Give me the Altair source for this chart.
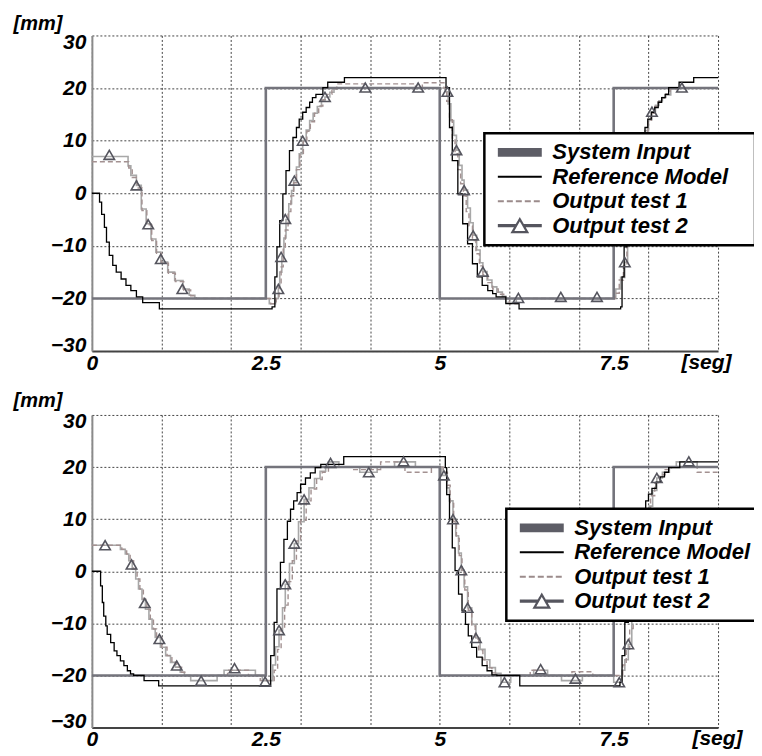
import altair as alt
import pandas as pd

FONT = "Liberation Sans"
SERIES = ["System Input", "Reference Model", "Output test 1", "Output test 2"]

# ---------------- data ----------------
input_t = [0, 2.5, 5, 7.5, 9]
input_v = [-20, 20, -20, 20, 20]

# top panel
top_ref_t = [0, 0.11, 0.14, 0.18, 0.21, 0.25, 0.30, 0.35, 0.42, 0.49, 0.56, 0.64, 0.73, 0.97,
             2.59, 2.63, 2.66, 2.70, 2.745, 2.79, 2.84, 2.89, 2.94, 2.98, 3.03, 3.08, 3.13, 3.17, 3.22, 3.32, 3.39, 3.63,
             5.09, 5.14, 5.18, 5.26, 5.33, 5.40, 5.47, 5.54, 5.61, 5.69, 5.76, 5.81, 5.95, 6.14,
             7.60, 7.62, 7.65, 7.69, 7.74, 7.79, 7.84, 7.90, 7.95, 7.99, 8.04, 8.09, 8.14, 8.19, 8.24, 8.29, 8.44, 8.65, 9]
top_ref_v = [0, -1.7, -4, -6.5, -9.3, -11.8, -13.7, -15, -16.3, -17.5, -18.5, -19.7, -20.8, -22,
             -21.6, -15.9, -10.2, -5.2, -0.1, 4.3, 8.1, 10.6, 12.5, 14.1, 15.4, 16.3, 17.3, 18.2, 18.8, 20.1, 21.1, 22,
             20.1, 12.5, 6.2, -0.1, -5.8, -9.6, -13.4, -15.9, -17.5, -18.5, -19.1, -19.7, -21, -22,
             -21.6, -15.9, -10.2, -5.2, -0.1, 4.3, 8.1, 10.6, 12.5, 14.1, 15.4, 16.3, 17.3, 18.2, 18.8, 20.1, 21.1, 22, 22]

top_t1_t = [0, 0.53, 0.58, 0.65, 0.72, 0.79, 0.86, 0.93, 1.00, 1.10, 1.20, 1.32, 1.42, 1.50,
            2.57, 2.65, 2.69, 2.72, 2.75, 2.78, 2.82, 2.86, 2.90, 2.94, 2.99, 3.04, 3.09, 3.14, 3.20, 3.26, 3.32, 3.38, 3.45, 3.52, 4.65, 4.75,
            5.06, 5.10, 5.14, 5.18, 5.22, 5.26, 5.30, 5.34, 5.38, 5.42, 5.47, 5.52, 5.57, 5.62, 5.69, 5.76, 5.84, 5.92, 6.00, 6.12,
            7.52, 7.58, 7.64, 7.69, 7.74, 7.79, 7.84, 7.89, 7.94, 7.99, 8.04, 8.09, 8.14, 8.19, 8.25, 8.31, 8.40, 9]
top_t1_v = [6, 4.8, 3, 1, -3.3, -6, -9, -11.4, -13.3, -15.2, -16.8, -18.4, -19.5, -20,
            -21, -20, -17.5, -14, -10.5, -7, -3.5, -0.5, 2, 4.5, 7.3, 9.8, 11.8, 13.6, 15.2, 16.6, 17.8, 18.8, 19.8, 20.8, 20, 21,
            20, 17.5, 14, 10.5, 7.5, 4.5, 1.8, -0.5, -3.5, -6.2, -9, -11.5, -13.8, -15.5, -17, -18.2, -19.2, -20, -21, -20,
            -19, -16.5, -13.8, -10, -5.5, -1, 3.5, 7.8, 11.2, 13.6, 15.2, 16.5, 17.4, 18.1, 18.9, 19.8, 20, 20]

top_t2_t = [0, 0.52, 0.56, 0.64, 0.71, 0.78, 0.85, 0.92, 0.99, 1.09, 1.19, 1.31, 1.40, 1.48,
            2.55, 2.64, 2.68, 2.70, 2.73, 2.76, 2.79, 2.83, 2.87, 2.90, 2.94, 2.98, 3.03, 3.08, 3.13, 3.18, 3.24, 3.30, 3.35, 3.42, 3.48,
            5.08, 5.12, 5.16, 5.20, 5.24, 5.28, 5.32, 5.35, 5.40, 5.44, 5.48, 5.53, 5.58, 5.62, 5.68, 5.75, 5.82, 5.90, 5.95, 6.10,
            7.53, 7.60, 7.66, 7.70, 7.75, 7.80, 7.85, 7.90, 7.95, 8.00, 8.05, 8.10, 8.15, 8.20, 8.25, 8.32, 8.40, 9]
top_t2_v = [7, 5.2, 3.4, 1.5, -3, -5.8, -8.7, -11.2, -13.1, -15, -16.6, -18.2, -19.4, -20,
            -21, -20, -18, -15, -12, -8.5, -5, -2, 0.5, 2.4, 5, 7.5, 10, 12, 13.8, 15.2, 16.5, 17.6, 18.3, 19.2, 20,
            19.3, 17, 13.8, 11, 8.2, 5.3, 2.5, 0.6, -2.8, -5.6, -8, -10.8, -13.2, -14.9, -16.5, -17.8, -18.8, -19.6, -20.8, -20,
            -18.2, -16, -13.1, -9.5, -5, -0.5, 4, 8.2, 11.9, 14, 15.5, 16.7, 17.6, 18.2, 18.7, 19.8, 20, 20]

top_mk_t = [0.25, 0.64, 0.81, 0.99, 1.30, 2.68, 2.72, 2.78, 2.91, 3.03, 3.35, 3.93, 4.69,
            5.11, 5.24, 5.35, 5.48, 5.62, 6.13, 6.74, 7.26, 7.66, 8.05, 8.48]
top_mk_v = [7.3, 1.5, -5.9, -12.5, -18.2, -18.2, -12.1, -4.9, 2.4, 10, 18.3, 20.1, 20.1,
            19.3, 8.2, 0.6, -8.0, -14.9, -19.9, -19.7, -19.7, -13.1, 15.5, 20.1]

# bottom panel
bot_ref_t = [0, 0.125, 0.15, 0.17, 0.20, 0.22, 0.27, 0.32, 0.36, 0.41, 0.46, 0.51, 0.555, 0.60, 0.75, 0.96,
             2.57, 2.62, 2.66, 2.71, 2.76, 2.81, 2.855, 2.90, 2.95, 3.00, 3.07, 3.14, 3.21, 3.29, 3.62,
             5.08, 5.10, 5.14, 5.18, 5.22, 5.27, 5.32, 5.37, 5.41, 5.46, 5.53, 5.61, 5.68, 5.75, 5.82, 6.15,
             7.59, 7.62, 7.66, 7.71, 7.76, 7.81, 7.86, 7.91, 7.96, 8.00, 8.05, 8.11, 8.17, 8.23, 8.29, 8.45, 9]
bot_ref_v = [0, -2.8, -6, -8.6, -10.5, -12.1, -13.7, -15.3, -16.2, -17.2, -18.1, -19.1, -19.7, -20, -21, -22,
             -16.2, -9.8, -3.4, 1.7, 6.1, 9.6, 11.9, 13.5, 15.1, 16.7, 17.9, 18.9, 19.9, 20.5, 22,
             19.9, 14.7, 10, 4.5, 0.1, -4.4, -7.6, -10.2, -12.4, -14.6, -16.5, -18.1, -19.1, -19.9, -20, -22,
             -21.3, -16.2, -9.8, -3.4, 1.7, 6.1, 9.6, 11.9, 13.5, 14.8, 15.9, 17.1, 18.1, 19, 19.9, 21, 21]

bot_t1_t = [0, 0.43, 0.50, 0.55, 0.60, 0.65, 0.69, 0.74, 0.79, 0.84, 0.885, 0.93, 1.005, 1.08, 1.15, 1.22, 1.29, 1.35, 1.95, 2.25, 2.42,
            2.62, 2.67, 2.72, 2.77, 2.82, 2.88, 2.94, 3.00, 3.08, 3.15, 3.23, 3.31, 3.40, 3.75, 4.15, 4.50, 4.88,
            5.05, 5.11, 5.15, 5.20, 5.24, 5.28, 5.32, 5.36, 5.41, 5.46, 5.51, 5.56, 5.62, 5.68, 5.75, 5.83, 6.30, 6.50, 6.90, 7.20,
            7.55, 7.63, 7.68, 7.73, 7.78, 7.83, 7.88, 7.93, 7.98, 8.03, 8.09, 8.16, 8.24, 8.33, 8.70, 9]
bot_t1_v = [5, 4.2, 3.3, 2, 0.4, -1.5, -3.4, -5.4, -7.3, -9.2, -11.1, -12.7, -14.6, -16.2, -17.5, -18.4, -19.4, -20, -19, -20, -21,
            -19, -15, -11, -6.5, -2, 2, 5.8, 9.8, 13.5, 15.8, 17.6, 19, 20, 19.5, 21, 19, 20,
            19, 16.5, 13, 9.5, 6.3, 3, -0.3, -3.6, -7.5, -10.5, -13, -15.2, -17, -18.5, -19.5, -20, -19, -20, -19.3, -20,
            -20, -18, -15, -11, -6, -1.5, 3, 7, 11, 14.5, 17, 18.5, 19.5, 20, 19, 19]

bot_t2_t = [0, 0.41, 0.48, 0.53, 0.58, 0.63, 0.67, 0.72, 0.77, 0.82, 0.865, 0.91, 0.985, 1.06, 1.13, 1.20, 1.27, 1.33, 1.42, 1.80, 1.90, 2.35, 2.45,
            2.60, 2.64, 2.69, 2.74, 2.78, 2.84, 2.91, 2.97, 3.05, 3.12, 3.20, 3.28, 3.36, 3.40, 3.55, 3.85, 4.10, 4.35, 4.65,
            5.03, 5.10, 5.14, 5.19, 5.23, 5.27, 5.31, 5.35, 5.40, 5.46, 5.52, 5.58, 5.65, 5.72, 5.80, 5.88, 6.02, 6.35, 6.55, 6.75, 7.05, 7.50,
            7.62, 7.66, 7.71, 7.76, 7.81, 7.86, 7.91, 7.96, 8.01, 8.06, 8.12, 8.20, 8.30, 8.40, 8.70, 9]
bot_t2_v = [5, 4.2, 3.3, 2, 0.4, -1.5, -3.4, -5.4, -7.3, -9.2, -11.1, -12.7, -14.6, -16.2, -17.5, -18.4, -19.4, -20, -21, -20, -19, -20, -21,
            -18, -14.5, -11.3, -7, -2.5, 1.5, 5.3, 9.5, 13.8, 16, 17.8, 19.2, 20, 21, 20, 19, 20, 21, 20,
            18.4, 16, 13.5, 10, 6.8, 3.5, 0.2, -3, -7, -10.2, -12.8, -15, -17, -18.5, -19.6, -21.3, -20, -19, -20, -21, -20, -21.3,
            -19, -17, -14, -9, -4, 0.5, 4.8, 8.8, 12.5, 15.5, 17.9, 19, 20, 21, 20, 20]

bot_mk_t = [0.19, 0.57, 0.76, 0.97, 1.22, 1.57, 2.05, 2.49, 2.69, 2.78, 2.91, 3.05, 3.43, 3.98, 4.48,
            5.06, 5.19, 5.31, 5.40, 5.52, 5.93, 6.45, 6.95, 7.58, 7.71, 8.12, 8.58]
bot_mk_v = [5.0, 1.3, -6.1, -13, -18.1, -21, -18.6, -21.2, -11.3, -2.5, 5.3, 13.8, 20.8, 19, 21.1,
            18.4, 10, 0.2, -7, -12.8, -21.3, -18.8, -20.6, -21.3, -14, 17.9, 21.1]

x_grid_values = [0, 1, 2, 2.5, 3, 4, 5, 6, 7, 7.5, 8, 9]
y_values = [-30, -20, -10, 0, 10, 20, 30]

# legend symbol glyphs (unit = sqrt(symbolSize)/2 px); line runs from -1 to 7
bar_path = "M-1,-0.6H7M-1,-0.3H7M-1,0H7M-1,0.3H7M-1,0.6H7"
legend_paths_bottom = [
    bar_path,
    "M-1,0H7",
    "M-1,0H7",
    "M-1,-0.1H2.32M3.68,-0.1H7M-1,0.1H2.32M3.68,0.1H7M1.64,1.18L3,-1.18L4.36,1.18Z",
]
# the top legend box is a little wider on its right side
legend_paths_top = [bar_path + "M43.5,0"] + legend_paths_bottom[1:]
legend_colors = ["#5d5d66", "#000000", "#9b8b8b", "#55555e"]
legend_dashes = [[1, 0], [1, 0], [6, 3], [1, 0]]


def df(t, v):
    return pd.DataFrame({"t": t, "v": v})


def x_enc(title_x, title_y):
    return alt.X(
        "t:Q",
        scale=alt.Scale(domain=[0, 9], nice=False, zero=False),
        axis=alt.Axis(
            values=x_grid_values,
            labelExpr="(datum.value==0||datum.value==2.5||datum.value==5||datum.value==7.5) ? ''+datum.value : ''",
            grid=True,
            gridOpacity={"condition": {"test": "datum.value==2.5||datum.value==7.5", "value": 0}, "value": 1},
            gridColor="#444444", gridDash=[2, 2], gridWidth=1,
            ticks=False, domainColor="#444444", domainWidth=2,
            labelFont=FONT, labelFontSize=21, labelFontStyle="italic", labelFontWeight="bold",
            labelColor="black", labelPadding=1, labelFlush=False, labelOverlap=False,
            title="[seg]", titleX=title_x, titleY=title_y, titleAlign="right", titleBaseline="alphabetic",
            titleFont=FONT, titleFontSize=21, titleFontStyle="italic", titleFontWeight="bold", titleColor="black",
        ),
    )


def y_enc(title_y):
    return alt.Y(
        "v:Q",
        scale=alt.Scale(domain=[-30, 30], nice=False, zero=False),
        axis=alt.Axis(
            values=y_values, grid=True,
            gridColor="#444444", gridDash=[2, 2], gridWidth=1,
            ticks=False, domainColor="#8a8a8a", domainWidth=2,
            labelFont=FONT, labelFontSize=21, labelFontStyle="italic", labelFontWeight="bold",
            labelColor="black", labelPadding=6, labelFlush=True, labelFlushOffset=4, labelOverlap=False,
            title="[mm]", titleAngle=0, titleX=-79, titleY=title_y, titleAlign="left", titleBaseline="alphabetic",
            titleFont=FONT, titleFontSize=20, titleFontStyle="italic", titleFontWeight="bold", titleColor="black",
        ),
    )


def panel(ref, t1, t2, mk, h, tx, ty, my, lx, ly, paths):
    X = x_enc(tx, ty)
    Y = y_enc(my)
    l_t2 = alt.Chart(t2).mark_line(interpolate="step-after", color="#a8a8a8", strokeWidth=1.6).encode(x=X, y=Y)
    l_t1 = alt.Chart(t1).mark_line(interpolate="step-after", color="#a39191", strokeWidth=1.4,
                                   strokeDash=[5, 3]).encode(x=X, y=Y)
    l_in = alt.Chart(df(input_t, input_v)).mark_line(interpolate="step-after", color="#74747c",
                                                     strokeWidth=2.6).encode(x=X, y=Y)
    l_ref = alt.Chart(ref).mark_line(interpolate="step-after", color="#000000", strokeWidth=1.3).encode(x=X, y=Y)
    l_mk = alt.Chart(mk).mark_point(shape="triangle-up", filled=False, size=110, color="#55555e",
                                    strokeWidth=1.6, opacity=1).encode(x=X, y=Y)
    leg = alt.Legend(
        title=None, orient="none", legendX=lx, legendY=ly,
        symbolSize=121, symbolOffset=0, symbolStrokeWidth=2.2, labelOffset=38,
        padding=8, rowPadding=2.5, strokeColor="black", fillColor="white", cornerRadius=0,
        labelFont=FONT, labelFontSize=22, labelFontStyle="italic", labelFontWeight="bold",
        labelColor="black", labelLimit=400, zindex=1,
    )
    l_leg = alt.Chart(pd.DataFrame({"series": SERIES})).transform_filter("false").mark_point(
        filled=False, opacity=1).encode(
        x=X, y=Y,
        shape=alt.Shape("series:N", scale=alt.Scale(domain=SERIES, range=paths), legend=leg),
        stroke=alt.Stroke("series:N", scale=alt.Scale(domain=SERIES, range=legend_colors), legend=leg),
        strokeDash=alt.StrokeDash("series:N", scale=alt.Scale(domain=SERIES, range=legend_dashes), legend=leg),
    )
    return alt.layer(l_t2, l_t1, l_in, l_ref, l_mk, l_leg).properties(width=627, height=h)


top = panel(df(top_ref_t, top_ref_v), df(top_t1_t, top_t1_v), df(top_t2_t, top_t2_v), df(top_mk_t, top_mk_v),
            316, 640, 17, -5.7, 393, 98, legend_paths_top)
bottom = panel(df(bot_ref_t, bot_ref_v), df(bot_t1_t, bot_t1_v), df(bot_t2_t, bot_t2_v), df(bot_mk_t, bot_mk_v),
               313, 651, 17, -8, 415, 94, legend_paths_bottom)

chart = alt.vconcat(top, bottom, spacing=64, bounds="flush").resolve_scale(
    shape="independent", stroke="independent", strokeDash="independent"
).resolve_legend(
    shape="independent", stroke="independent", strokeDash="independent"
).properties(
    padding={"left": 5, "top": 5, "right": -7, "bottom": 0}, background="white"
).configure_view(strokeOpacity=0).configure_legend(strokeWidth=2.5)

chart.save("out.html", embed_options={"renderer": "svg", "actions": False})
